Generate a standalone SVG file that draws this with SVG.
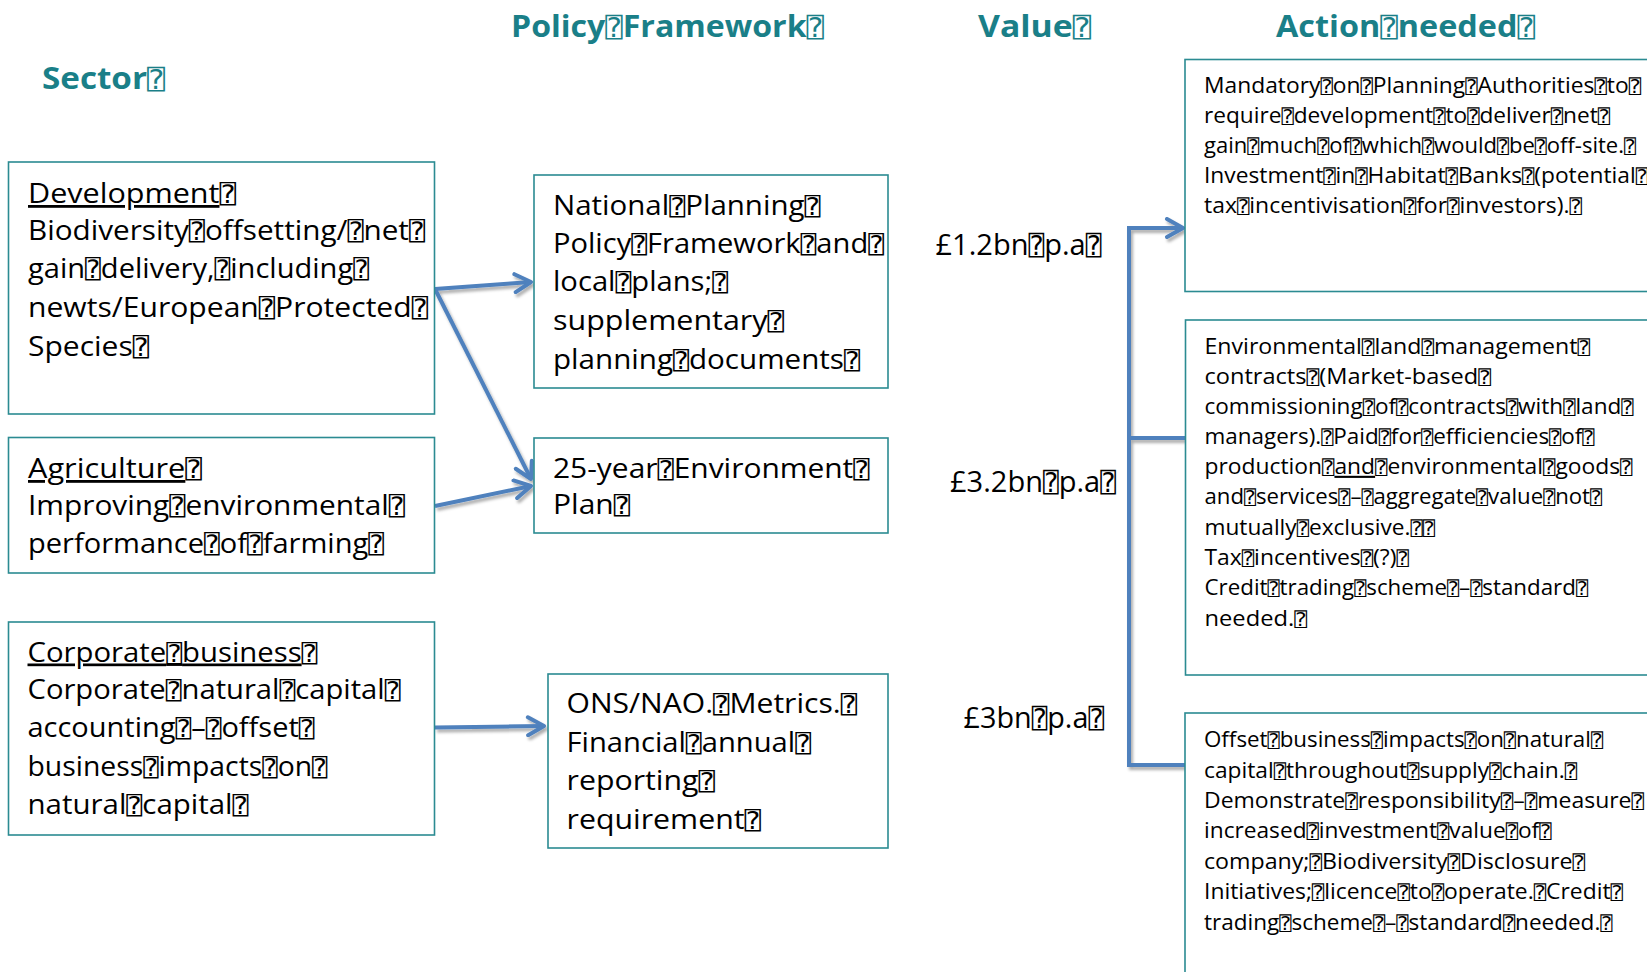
<svg xmlns="http://www.w3.org/2000/svg" width="1647" height="972" viewBox="0 0 1647 972">
  <style>
    text { font-family: "Open Sans", "DejaVu Sans", sans-serif; fill: #000; }
    .hd { font-size: 30px; font-weight: bold; fill: #1A7F88; }
    .t28 { font-size: 28px; }
    .t27 { font-size: 27px; }
    .t30 { font-size: 30px; }
    .t21 { font-size: 21px; }
    .q { font-family: "DejaVu Sans Mono", "DejaVu Sans", monospace; font-size: 0.9em; font-weight: normal; }
    .hd .q { fill: #1A7F88; }
    .u { text-decoration: underline; }
    .box { fill: #fff; stroke: #2B8B92; stroke-width: 1.6; }
    .link { fill: none; stroke: #4F81BD; stroke-width: 4; stroke-linejoin: miter; }
  </style>
  <defs>
    <marker id="chev" viewBox="0 0 22 22" refX="19" refY="11" markerWidth="22" markerHeight="22" markerUnits="userSpaceOnUse" orient="auto">
      <path d="M3,2 L19,11 L3,20" fill="none" stroke="#4F81BD" stroke-width="4" stroke-linecap="round" stroke-linejoin="round"/>
    </marker>
    <filter id="shade" x="-10%" y="-10%" width="130%" height="130%">
      <feDropShadow dx="2" dy="3" stdDeviation="1.5" flood-color="#000" flood-opacity="0.32"/>
    </filter>
  </defs>

  <rect width="1647" height="972" fill="#fff"/>

  <!-- column headings -->
  <g id="headings">
    <text class="hd" x="42" y="88.5" textLength="123" lengthAdjust="spacingAndGlyphs">Sector<tspan class="q">⍰</tspan></text>
    <text class="hd" x="511" y="36.5" textLength="313" lengthAdjust="spacingAndGlyphs">Policy<tspan class="q">⍰</tspan>Framework<tspan class="q">⍰</tspan></text>
    <text class="hd" x="978" y="36.5" textLength="113" lengthAdjust="spacingAndGlyphs">Value<tspan class="q">⍰</tspan></text>
    <text class="hd" x="1276" y="36.5" textLength="259" lengthAdjust="spacingAndGlyphs">Action<tspan class="q">⍰</tspan>needed<tspan class="q">⍰</tspan></text>
  </g>

  <!-- connectors -->
  <g id="connectors" filter="url(#shade)">
    <path class="link" d="M435,289 L531,282" marker-end="url(#chev)"/>
    <path class="link" d="M435,289 L531,479" marker-end="url(#chev)"/>
    <path class="link" d="M435,506 L531,486" marker-end="url(#chev)"/>
    <path class="link" d="M435,727.5 L544,726" marker-end="url(#chev)"/>
    <path class="link" d="M1185,765 H1129 V228 H1183" marker-end="url(#chev)"/>
    <path class="link" d="M1129,438 H1185"/>
  </g>

  <!-- sector nodes -->
  <g id="sector-development">
    <rect class="box" x="8.5" y="162" width="426" height="252"/>
    <text class="t28" x="28" y="203" textLength="208" lengthAdjust="spacingAndGlyphs"><tspan class="u">Development</tspan><tspan class="q">⍰</tspan></text>
    <text class="t28" x="28" y="240" textLength="397" lengthAdjust="spacingAndGlyphs">Biodiversity<tspan class="q">⍰</tspan>offsetting/<tspan class="q">⍰</tspan>net<tspan class="q">⍰</tspan></text>
    <text class="t28" x="28" y="278" textLength="341" lengthAdjust="spacingAndGlyphs">gain<tspan class="q">⍰</tspan>delivery,<tspan class="q">⍰</tspan>including<tspan class="q">⍰</tspan></text>
    <text class="t28" x="28" y="316.5" textLength="400" lengthAdjust="spacingAndGlyphs">newts/European<tspan class="q">⍰</tspan>Protected<tspan class="q">⍰</tspan></text>
    <text class="t28" x="28" y="355.5" textLength="121" lengthAdjust="spacingAndGlyphs">Species<tspan class="q">⍰</tspan></text>
  </g>

  <g id="sector-agriculture">
    <rect class="box" x="8.5" y="437.5" width="426" height="135.5"/>
    <text class="t28" x="28" y="478" textLength="174" lengthAdjust="spacingAndGlyphs"><tspan class="u">Agriculture</tspan><tspan class="q">⍰</tspan></text>
    <text class="t28" x="28" y="515" textLength="377" lengthAdjust="spacingAndGlyphs">Improving<tspan class="q">⍰</tspan>environmental<tspan class="q">⍰</tspan></text>
    <text class="t28" x="28" y="553" textLength="356" lengthAdjust="spacingAndGlyphs">performance<tspan class="q">⍰</tspan>of<tspan class="q">⍰</tspan>farming<tspan class="q">⍰</tspan></text>
  </g>

  <g id="sector-corporate">
    <rect class="box" x="8.5" y="622" width="426" height="213"/>
    <text class="t27" x="27.5" y="661.5" textLength="290" lengthAdjust="spacingAndGlyphs"><tspan class="u">Corporate<tspan class="q">⍰</tspan>business</tspan><tspan class="q">⍰</tspan></text>
    <text class="t27" x="27.5" y="699" textLength="373" lengthAdjust="spacingAndGlyphs">Corporate<tspan class="q">⍰</tspan>natural<tspan class="q">⍰</tspan>capital<tspan class="q">⍰</tspan></text>
    <text class="t27" x="27.5" y="737" textLength="287" lengthAdjust="spacingAndGlyphs">accounting<tspan class="q">⍰</tspan>–<tspan class="q">⍰</tspan>offset<tspan class="q">⍰</tspan></text>
    <text class="t27" x="27.5" y="776" textLength="300" lengthAdjust="spacingAndGlyphs">business<tspan class="q">⍰</tspan>impacts<tspan class="q">⍰</tspan>on<tspan class="q">⍰</tspan></text>
    <text class="t27" x="27.5" y="814" textLength="221" lengthAdjust="spacingAndGlyphs">natural<tspan class="q">⍰</tspan>capital<tspan class="q">⍰</tspan></text>
  </g>

  <!-- policy framework nodes -->
  <g id="policy-nppf">
    <rect class="box" x="534" y="175" width="354" height="213"/>
    <text class="t27" x="553" y="215" textLength="267.5" lengthAdjust="spacingAndGlyphs">National<tspan class="q">⍰</tspan>Planning<tspan class="q">⍰</tspan></text>
    <text class="t27" x="553" y="252.5" textLength="331" lengthAdjust="spacingAndGlyphs">Policy<tspan class="q">⍰</tspan>Framework<tspan class="q">⍰</tspan>and<tspan class="q">⍰</tspan></text>
    <text class="t27" x="553" y="291" textLength="175" lengthAdjust="spacingAndGlyphs">local<tspan class="q">⍰</tspan>plans;<tspan class="q">⍰</tspan></text>
    <text class="t27" x="553" y="330" textLength="231" lengthAdjust="spacingAndGlyphs">supplementary<tspan class="q">⍰</tspan></text>
    <text class="t27" x="553" y="369" textLength="307" lengthAdjust="spacingAndGlyphs">planning<tspan class="q">⍰</tspan>documents<tspan class="q">⍰</tspan></text>
  </g>

  <g id="policy-25-year-plan">
    <rect class="box" x="534" y="438" width="354" height="95"/>
    <text class="t27" x="553" y="478" textLength="316.5" lengthAdjust="spacingAndGlyphs">25-year<tspan class="q">⍰</tspan>Environment<tspan class="q">⍰</tspan></text>
    <text class="t27" x="553" y="514" textLength="77" lengthAdjust="spacingAndGlyphs">Plan<tspan class="q">⍰</tspan></text>
  </g>

  <g id="policy-ons-nao">
    <rect class="box" x="548" y="674" width="340" height="174"/>
    <text class="t27" x="566.5" y="713" textLength="290.5" lengthAdjust="spacingAndGlyphs">ONS/NAO.<tspan class="q">⍰</tspan>Metrics.<tspan class="q">⍰</tspan></text>
    <text class="t27" x="566.5" y="751.5" textLength="244.5" lengthAdjust="spacingAndGlyphs">Financial<tspan class="q">⍰</tspan>annual<tspan class="q">⍰</tspan></text>
    <text class="t27" x="566.5" y="789.5" textLength="148.5" lengthAdjust="spacingAndGlyphs">reporting<tspan class="q">⍰</tspan></text>
    <text class="t27" x="566.5" y="829" textLength="194.5" lengthAdjust="spacingAndGlyphs">requirement<tspan class="q">⍰</tspan></text>
  </g>

  <!-- values -->
  <g id="value-development">
    <text class="t30" x="935.5" y="255" textLength="166" lengthAdjust="spacingAndGlyphs">£1.2bn<tspan class="q">⍰</tspan>p.a<tspan class="q">⍰</tspan></text>
  </g>
  <g id="value-agriculture">
    <text class="t30" x="950" y="491.5" textLength="166" lengthAdjust="spacingAndGlyphs">£3.2bn<tspan class="q">⍰</tspan>p.a<tspan class="q">⍰</tspan></text>
  </g>
  <g id="value-corporate">
    <text class="t30" x="963.5" y="727.5" textLength="140.5" lengthAdjust="spacingAndGlyphs">£3bn<tspan class="q">⍰</tspan>p.a<tspan class="q">⍰</tspan></text>
  </g>

  <!-- actions needed -->
  <g id="action-planning">
    <rect class="box" x="1185" y="59.5" width="480" height="232"/>
    <text class="t21" x="1204" y="93.3" textLength="437" lengthAdjust="spacingAndGlyphs">Mandatory<tspan class="q">⍰</tspan>on<tspan class="q">⍰</tspan>Planning<tspan class="q">⍰</tspan>Authorities<tspan class="q">⍰</tspan>to<tspan class="q">⍰</tspan></text>
    <text class="t21" x="1204" y="123.3" textLength="406" lengthAdjust="spacingAndGlyphs">require<tspan class="q">⍰</tspan>development<tspan class="q">⍰</tspan>to<tspan class="q">⍰</tspan>deliver<tspan class="q">⍰</tspan>net<tspan class="q">⍰</tspan></text>
    <text class="t21" x="1204" y="153.3" textLength="432" lengthAdjust="spacingAndGlyphs">gain<tspan class="q">⍰</tspan>much<tspan class="q">⍰</tspan>of<tspan class="q">⍰</tspan>which<tspan class="q">⍰</tspan>would<tspan class="q">⍰</tspan>be<tspan class="q">⍰</tspan>off-site.<tspan class="q">⍰</tspan></text>
    <text class="t21" x="1204" y="183.3" textLength="444" lengthAdjust="spacingAndGlyphs">Investment<tspan class="q">⍰</tspan>in<tspan class="q">⍰</tspan>Habitat<tspan class="q">⍰</tspan>Banks<tspan class="q">⍰</tspan>(potential<tspan class="q">⍰</tspan></text>
    <text class="t21" x="1204" y="213.3" textLength="378" lengthAdjust="spacingAndGlyphs">tax<tspan class="q">⍰</tspan>incentivisation<tspan class="q">⍰</tspan>for<tspan class="q">⍰</tspan>investors).<tspan class="q">⍰</tspan></text>
  </g>

  <g id="action-land-management">
    <rect class="box" x="1185.5" y="320" width="480" height="355"/>
    <text class="t21" x="1204.5" y="353.5" textLength="385.5" lengthAdjust="spacingAndGlyphs">Environmental<tspan class="q">⍰</tspan>land<tspan class="q">⍰</tspan>management<tspan class="q">⍰</tspan></text>
    <text class="t21" x="1204.5" y="383.5" textLength="286.5" lengthAdjust="spacingAndGlyphs">contracts<tspan class="q">⍰</tspan>(Market-based<tspan class="q">⍰</tspan></text>
    <text class="t21" x="1204.5" y="413.5" textLength="429" lengthAdjust="spacingAndGlyphs">commissioning<tspan class="q">⍰</tspan>of<tspan class="q">⍰</tspan>contracts<tspan class="q">⍰</tspan>with<tspan class="q">⍰</tspan>land<tspan class="q">⍰</tspan></text>
    <text class="t21" x="1204.5" y="443.5" textLength="390" lengthAdjust="spacingAndGlyphs">managers).<tspan class="q">⍰</tspan>Paid<tspan class="q">⍰</tspan>for<tspan class="q">⍰</tspan>efficiencies<tspan class="q">⍰</tspan>of<tspan class="q">⍰</tspan></text>
    <text class="t21" x="1204.5" y="473.8" textLength="428" lengthAdjust="spacingAndGlyphs">production<tspan class="q">⍰</tspan><tspan class="u">and</tspan><tspan class="q">⍰</tspan>environmental<tspan class="q">⍰</tspan>goods<tspan class="q">⍰</tspan></text>
    <text class="t21" x="1204.5" y="504.2" textLength="397.5" lengthAdjust="spacingAndGlyphs">and<tspan class="q">⍰</tspan>services<tspan class="q">⍰</tspan>–<tspan class="q">⍰</tspan>aggregate<tspan class="q">⍰</tspan>value<tspan class="q">⍰</tspan>not<tspan class="q">⍰</tspan></text>
    <text class="t21" x="1204.5" y="534.5" textLength="230.5" lengthAdjust="spacingAndGlyphs">mutually<tspan class="q">⍰</tspan>exclusive.<tspan class="q">⍰⍰</tspan></text>
    <text class="t21" x="1204.5" y="565" textLength="204.3" lengthAdjust="spacingAndGlyphs">Tax<tspan class="q">⍰</tspan>incentives<tspan class="q">⍰</tspan>(?)<tspan class="q">⍰</tspan></text>
    <text class="t21" x="1204.5" y="595.3" textLength="383.5" lengthAdjust="spacingAndGlyphs">Credit<tspan class="q">⍰</tspan>trading<tspan class="q">⍰</tspan>scheme<tspan class="q">⍰</tspan>–<tspan class="q">⍰</tspan>standard<tspan class="q">⍰</tspan></text>
    <text class="t21" x="1204.5" y="625.5" textLength="102.5" lengthAdjust="spacingAndGlyphs">needed.<tspan class="q">⍰</tspan></text>
  </g>

  <g id="action-corporate">
    <rect class="box" x="1185" y="713" width="480" height="300"/>
    <text class="t21" x="1204" y="747.3" textLength="399" lengthAdjust="spacingAndGlyphs">Offset<tspan class="q">⍰</tspan>business<tspan class="q">⍰</tspan>impacts<tspan class="q">⍰</tspan>on<tspan class="q">⍰</tspan>natural<tspan class="q">⍰</tspan></text>
    <text class="t21" x="1204" y="777.5" textLength="373" lengthAdjust="spacingAndGlyphs">capital<tspan class="q">⍰</tspan>throughout<tspan class="q">⍰</tspan>supply<tspan class="q">⍰</tspan>chain.<tspan class="q">⍰</tspan></text>
    <text class="t21" x="1204" y="808" textLength="440" lengthAdjust="spacingAndGlyphs">Demonstrate<tspan class="q">⍰</tspan>responsibility<tspan class="q">⍰</tspan>–<tspan class="q">⍰</tspan>measure<tspan class="q">⍰</tspan></text>
    <text class="t21" x="1204" y="838" textLength="347.5" lengthAdjust="spacingAndGlyphs">increased<tspan class="q">⍰</tspan>investment<tspan class="q">⍰</tspan>value<tspan class="q">⍰</tspan>of<tspan class="q">⍰</tspan></text>
    <text class="t21" x="1204" y="868.5" textLength="381" lengthAdjust="spacingAndGlyphs">company;<tspan class="q">⍰</tspan>Biodiversity<tspan class="q">⍰</tspan>Disclosure<tspan class="q">⍰</tspan></text>
    <text class="t21" x="1204" y="899" textLength="419" lengthAdjust="spacingAndGlyphs">Initiatives;<tspan class="q">⍰</tspan>licence<tspan class="q">⍰</tspan>to<tspan class="q">⍰</tspan>operate.<tspan class="q">⍰</tspan>Credit<tspan class="q">⍰</tspan></text>
    <text class="t21" x="1204" y="929.5" textLength="408.5" lengthAdjust="spacingAndGlyphs">trading<tspan class="q">⍰</tspan>scheme<tspan class="q">⍰</tspan>–<tspan class="q">⍰</tspan>standard<tspan class="q">⍰</tspan>needed.<tspan class="q">⍰</tspan></text>
  </g>
</svg>
